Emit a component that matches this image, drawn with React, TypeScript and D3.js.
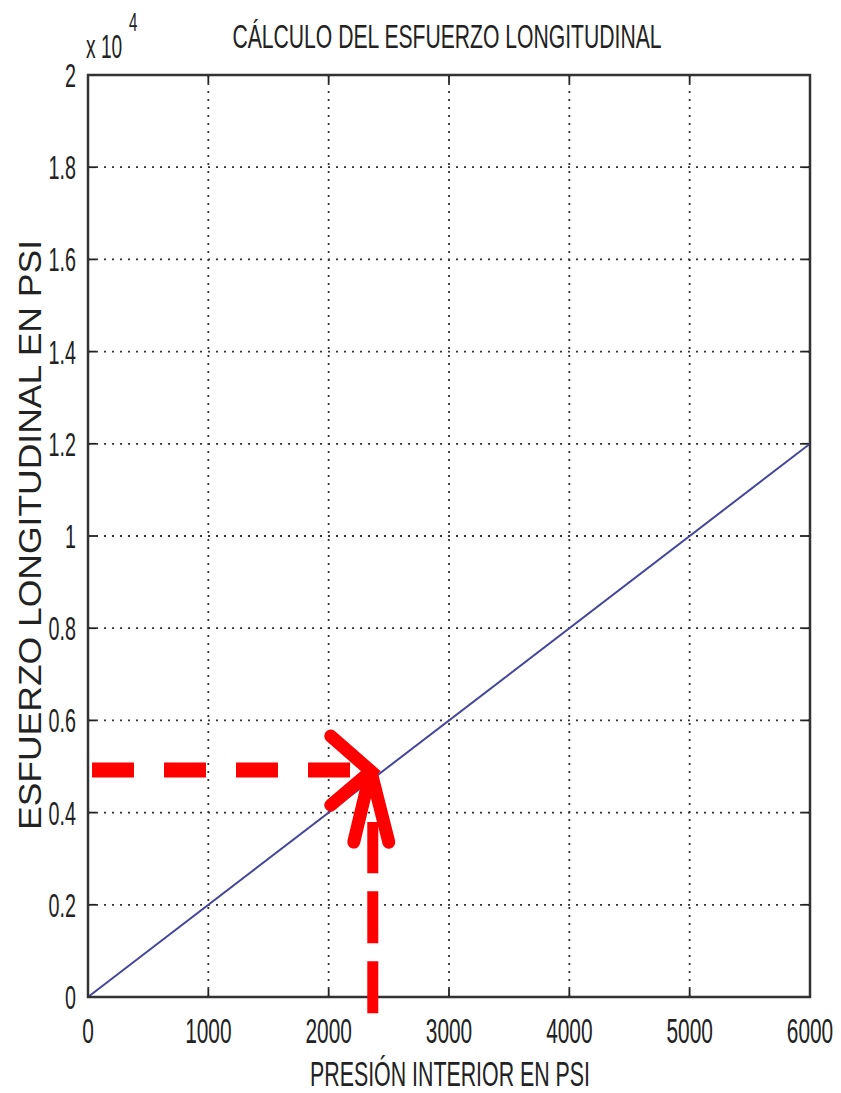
import React from 'react';
import * as d3 from 'd3';

// chart values
const pressure = [0, 6000];
const stress = [0, 12000];
const xTicks = [0, 1000, 2000, 3000, 4000, 5000, 6000];
const yTicks = [0, 2000, 4000, 6000, 8000, 10000, 12000, 14000, 16000, 18000, 20000];
const yTickLabels = ['0', '0.2', '0.4', '0.6', '0.8', '1', '1.2', '1.4', '1.6', '1.8', '2'];
// red annotation: reading point and where the vertical arrow starts
const markPressure = 2350;
const markStress = 4900;
const arrowBottomStress = -350;

const W = 841;
const H = 1093;
const left = 88, right = 810, top = 75, bottom = 997;
const font = '"Liberation Sans", Arial, sans-serif';
const sx = 0.58;

function App() {
  const x = d3.scaleLinear().domain([0, 6000]).range([left, right]);
  const y = d3.scaleLinear().domain([0, 20000]).range([bottom, top]);
  const line = d3.line<number>()
    .x((_, i) => x(pressure[i]))
    .y((d) => y(d));

  const tx = x(markPressure);
  const ty = y(markStress);

  return (
    <svg width={W} height={H} style={{ position: 'absolute', left: 0, top: 0, background: '#fff' }}>
      <rect width={W} height={H} fill="#fff" />

      {/* grid */}
      {xTicks.slice(1, -1).map((t) => (
        <line key={'gx' + t} x1={x(t)} x2={x(t)} y1={top} y2={bottom}
          stroke="#333" strokeWidth={1.8} strokeDasharray="2,6" />
      ))}
      {yTicks.slice(1, -1).map((t) => (
        <line key={'gy' + t} x1={left} x2={right} y1={y(t)} y2={y(t)}
          stroke="#333" strokeWidth={1.8} strokeDasharray="2,6" />
      ))}

      {/* ticks, all four sides */}
      {xTicks.map((t) => (
        <g key={'tx' + t} stroke="#222" strokeWidth={1.8}>
          <line x1={x(t)} x2={x(t)} y1={bottom} y2={bottom - 8} />
          <line x1={x(t)} x2={x(t)} y1={top} y2={top + 8} />
        </g>
      ))}
      {yTicks.map((t) => (
        <g key={'ty' + t} stroke="#222" strokeWidth={1.8}>
          <line x1={left} x2={left + 8} y1={y(t)} y2={y(t)} />
          <line x1={right} x2={right - 8} y1={y(t)} y2={y(t)} />
        </g>
      ))}

      {/* data line */}
      <path d={line(stress) || ''} fill="none" stroke="#45459a" strokeWidth={2} />

      {/* frame */}
      <rect x={left} y={top} width={right - left} height={bottom - top}
        fill="none" stroke="#333" strokeWidth={2.5} />

      {/* tick labels */}
      {xTicks.map((t) => (
        <text key={'lx' + t} transform={`translate(${x(t)},1043) scale(${sx},1)`}
          textAnchor="middle" fontFamily={font} fontSize={36} fill="#222">{t}</text>
      ))}
      {yTicks.map((t, i) => (
        <text key={'ly' + t} transform={`translate(76,${y(t) + 12}) scale(${sx},1)`}
          textAnchor="end" fontFamily={font} fontSize={34} fill="#222">{yTickLabels[i]}</text>
      ))}

      {/* exponent */}
      <text transform={`translate(86,58) scale(${sx},1)`} fontFamily={font} fontSize={33} fill="#222">x 10</text>
      <text transform={`translate(129,31) scale(${sx},1)`} fontFamily={font} fontSize={26} fill="#222">4</text>

      {/* title and axis labels */}
      <text transform="translate(447,48) scale(0.622,1)" textAnchor="middle" fontFamily={font} fontSize={34} fill="#222">
        CÁLCULO DEL ESFUERZO LONGITUDINAL</text>
      <text x={450} y={1086} textAnchor="middle" fontFamily={font} fontSize={35} fill="#222"
        textLength={280} lengthAdjust="spacingAndGlyphs">PRESIÓN INTERIOR EN PSI</text>
      <text transform="translate(41,535) rotate(-90)" textAnchor="middle" fontFamily={font} fontSize={31} fill="#222"
        textLength={590} lengthAdjust="spacingAndGlyphs">ESFUERZO LONGITUDINAL EN PSI</text>

      {/* red annotation arrows */}
      <g stroke="#ff0000" fill="none">
        <line x1={x(0) + 4} x2={tx - 18} y1={ty - 1} y2={ty - 1} strokeWidth={15} strokeDasharray="42,30" />
        <polyline points={`${tx - 40},${ty - 35} ${tx},${ty} ${tx - 40},${ty + 34}`}
          strokeWidth={13} strokeLinecap="round" strokeLinejoin="miter" />
        <line x1={tx + 2} x2={tx + 2} y1={y(arrowBottomStress)} y2={ty + 51} strokeWidth={11} strokeDasharray="52,18" />
        <polyline points={`${tx - 17},${ty + 71} ${tx},${ty} ${tx + 18},${ty + 71}`}
          strokeWidth={13} strokeLinecap="round" strokeLinejoin="miter" />
      </g>
    </svg>
  );
}

export default App;
